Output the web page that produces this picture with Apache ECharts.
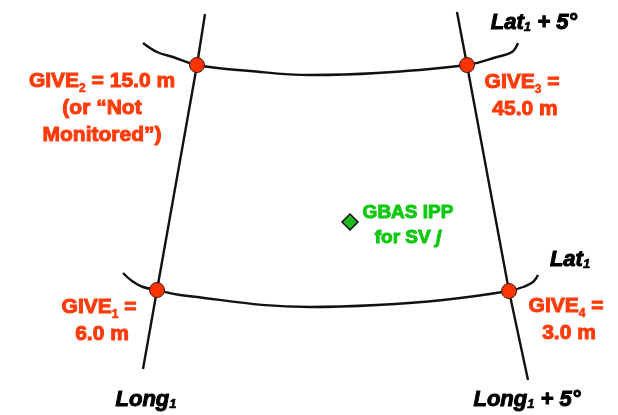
<!DOCTYPE html>
<html>
<head>
<meta charset="utf-8">
<script src="https://cdn.jsdelivr.net/npm/echarts@6/dist/echarts.min.js"></script>
<style>
  html, body { margin: 0; padding: 0; background: #fff; }
  #chart { width: 618px; height: 415px; }
</style>
</head>
<body>
<div id="chart"></div>
<script>
// grid lines (pixel-like units, y grows downward)
const meridianWest = [[205, 14], [197, 65], [157, 290], [143, 369]];
const meridianEast = [[457, 12], [467, 65], [509, 291], [528, 380]];
const parallelNorth = [[143, 43], [157, 52], [173, 57], [197, 65], [250, 71], [310, 75], [377, 73], [467, 65], [497, 57], [512, 52], [518, 43]];
const parallelSouth = [[123, 273], [132, 281], [143, 287], [157, 290], [180, 295], [310, 307], [377, 305], [443, 300], [509, 291], [523, 287], [533, 282], [538, 275]];

// GIVE grid points: GIVE2, GIVE3, GIVE1, GIVE4
const givePoints = [[197, 65], [467, 65], [157, 290], [509, 291]];
const giveIndex = ['2', '3', '1', '4'];
const giveMeters = ['15.0', '45.0', '6.0', '3.0'];
const giveNotes = ['(or “Not\nMonitored”)', '', '', ''];

// GBAS ionospheric pierce point
const ippPoint = [[350, 222]];
const ippText = 'GBAS IPP\nfor SV {i|j}';

// grid edge names
const edgeNames = ['Lat{s|1} + 5°', 'Lat{s|1}', 'Long{s|1}', 'Long{s|1} + 5°'];

const RED = '#ff3b0a';
const GREEN = '#10c810';
const INK = '#000';
const FONT = 'Liberation Sans, Arial, sans-serif';

let myChart = echarts.init(document.getElementById('chart'));

const lineSeries = (data, smooth) => ({
    type: 'line',
    data: data,
    smooth: smooth,
    symbol: 'none',
    silent: true,
    lineStyle: { color: '#111', width: 2.4 },
    z: 1
});

// label text for every GIVE point
const giveLabel = (i) => {
    let txt = 'GIVE{s|' + giveIndex[i] + '} = ';
    if (giveNotes[i]) {
        txt += giveMeters[i] + ' m\n' + giveNotes[i];
    } else {
        txt += '\n' + giveMeters[i] + ' m';
    }
    return txt;
};

const giveOffsets = [[-95, 43], [58, 31], [-55, 31], [60, 29]];
const edgeOffsets = [[16, -20], [32, -15], [3, 31], [-1, 20]];
const edgeAnchors = [
    parallelNorth[parallelNorth.length - 1],
    parallelSouth[parallelSouth.length - 1],
    meridianWest[meridianWest.length - 1],
    meridianEast[meridianEast.length - 1]
];

const option = {
    animation: false,
    grid: { left: 0, right: 0, top: 0, bottom: 0 },
    xAxis: { type: 'value', min: 0, max: 618, show: false },
    yAxis: { type: 'value', min: 0, max: 415, inverse: true, show: false },
    series: [
        lineSeries(meridianWest, false),
        lineSeries(meridianEast, false),
        lineSeries(parallelNorth, 0.4),
        lineSeries(parallelSouth, 0.4),
        {
            type: 'scatter',
            data: givePoints.map((p, i) => ({
                value: p,
                label: { offset: giveOffsets[i] }
            })),
            symbolSize: 15,
            itemStyle: { color: '#ff3300', borderColor: '#3a1a10', borderWidth: 1, opacity: 1 },
            z: 3,
            label: {
                show: true,
                position: 'inside',
                align: 'center',
                verticalAlign: 'middle',
                formatter: (p) => giveLabel(p.dataIndex),
                color: RED,
                fontFamily: FONT,
                fontWeight: 'bold',
                fontSize: 21,
                lineHeight: 27,
                textBorderColor: RED,
                textBorderWidth: 1,
                rich: {
                    s: {
                        color: RED,
                        fontFamily: FONT,
                        fontWeight: 'bold',
                        fontSize: 12,
                        verticalAlign: 'bottom',
                        textBorderColor: RED,
                        textBorderWidth: 0.6
                    }
                }
            }
        },
        {
            type: 'scatter',
            data: ippPoint,
            symbol: 'diamond',
            symbolSize: 16,
            itemStyle: { color: '#22b822', borderColor: '#111', borderWidth: 1.5, opacity: 1 },
            z: 3,
            label: {
                show: true,
                position: 'inside',
                offset: [58, 3],
                align: 'center',
                verticalAlign: 'middle',
                formatter: ippText,
                color: GREEN,
                fontFamily: FONT,
                fontWeight: 'bold',
                fontSize: 19,
                lineHeight: 25,
                textBorderColor: GREEN,
                textBorderWidth: 1,
                rich: {
                    i: {
                        color: GREEN,
                        fontFamily: FONT,
                        fontWeight: 'bold',
                        fontStyle: 'italic',
                        fontSize: 19,
                        textBorderColor: GREEN,
                        textBorderWidth: 1
                    }
                }
            }
        },
        {
            type: 'scatter',
            silent: true,
            symbolSize: 0,
            itemStyle: { opacity: 1 },
            data: edgeAnchors.map((p, i) => ({
                value: p,
                label: { offset: edgeOffsets[i], formatter: edgeNames[i] }
            })),
            label: {
                show: true,
                position: 'inside',
                align: 'center',
                verticalAlign: 'middle',
                color: INK,
                fontFamily: FONT,
                fontWeight: 'bold',
                fontStyle: 'italic',
                fontSize: 22,
                textBorderColor: INK,
                textBorderWidth: 1,
                rich: {
                    s: {
                        color: INK,
                        fontFamily: FONT,
                        fontWeight: 'bold',
                        fontStyle: 'italic',
                        fontSize: 13,
                        verticalAlign: 'bottom',
                        textBorderColor: INK,
                        textBorderWidth: 0.6
                    }
                }
            }
        }
    ]
};

myChart.setOption(option);
</script>
</body>
</html>
